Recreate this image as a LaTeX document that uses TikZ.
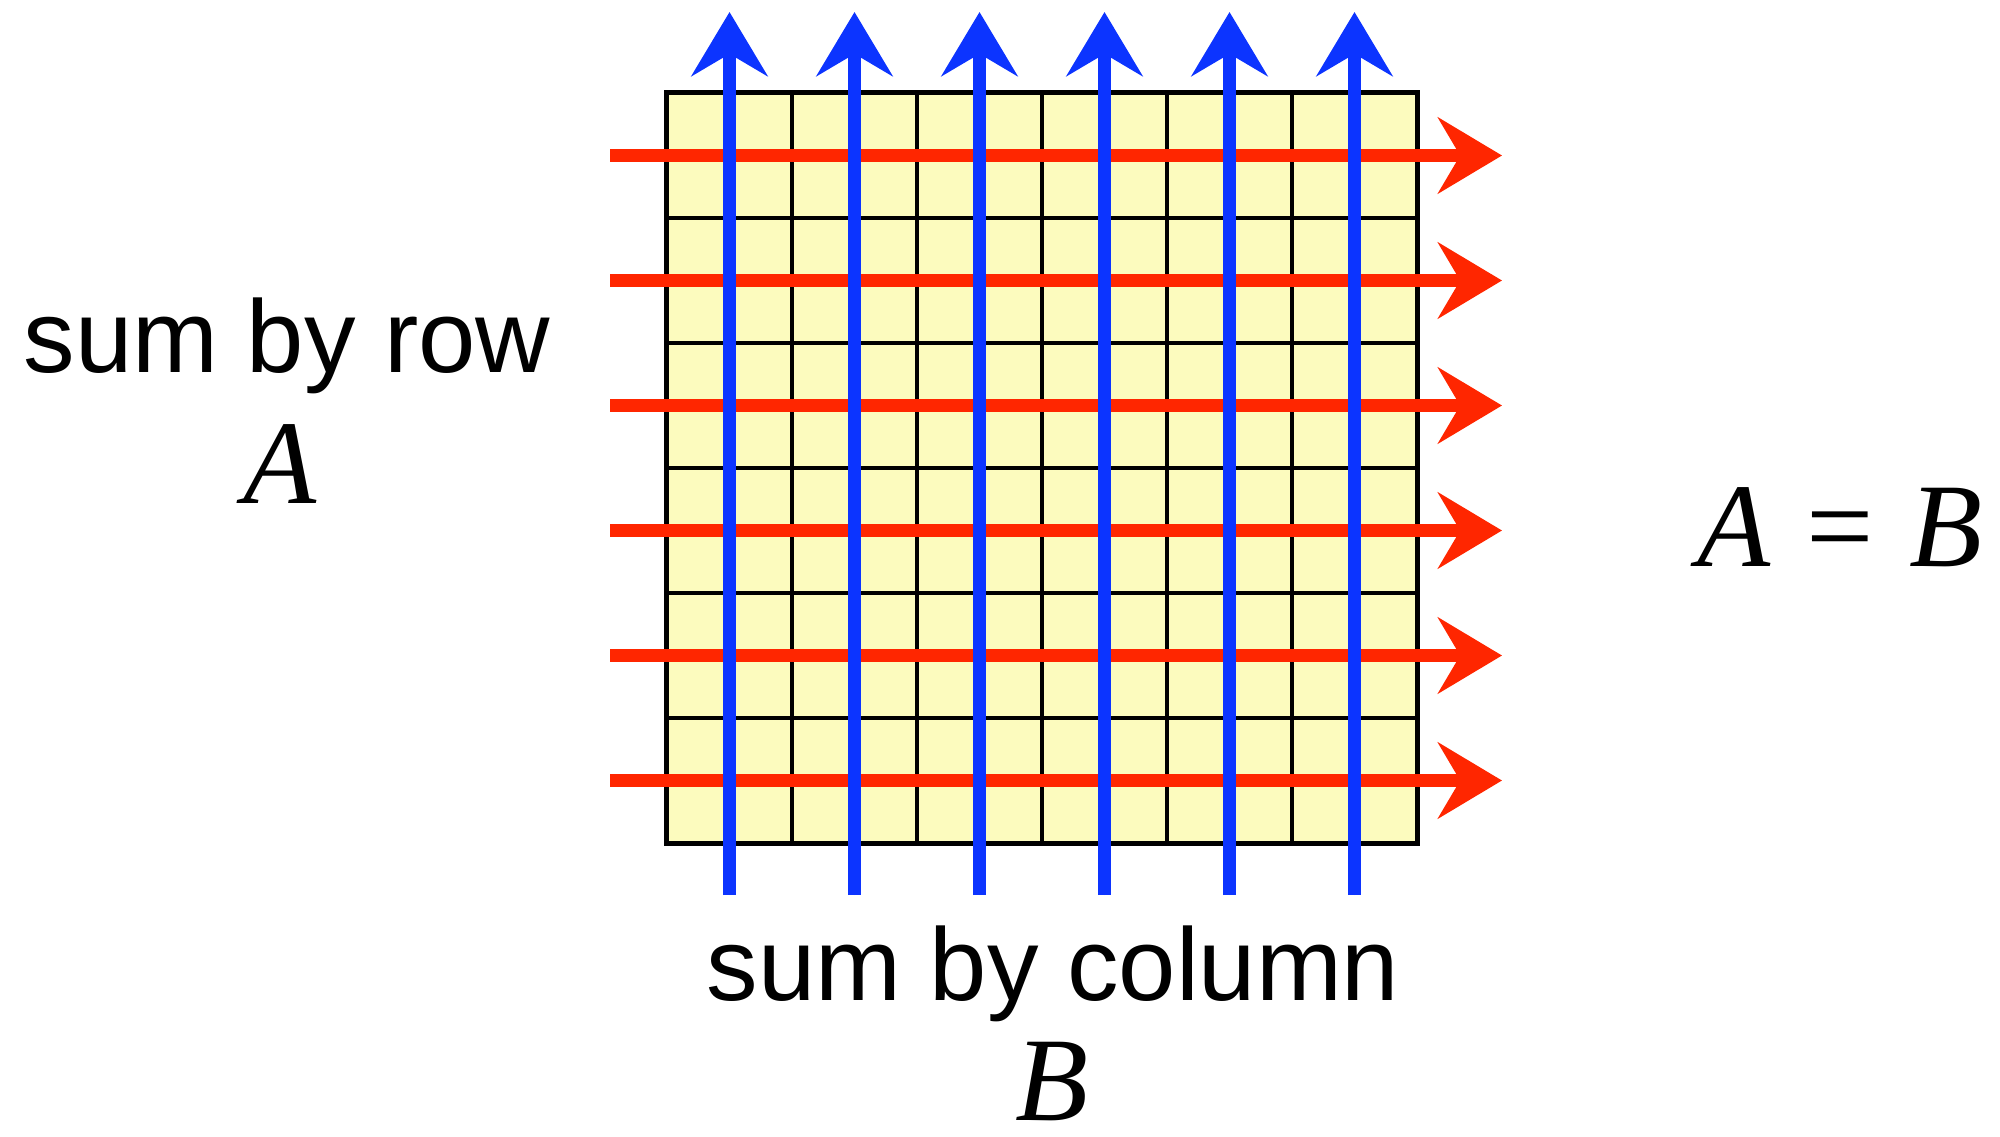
\documentclass[tikz,border=0pt]{standalone}
\usepackage{fontspec}
\setmainfont{Liberation Sans}
\newfontfamily\timesfont{Liberation Serif}
\usetikzlibrary{arrows.meta}
\definecolor{cellyellow}{RGB}{252,251,190}
\definecolor{rowred}{RGB}{255,38,0}
\definecolor{colblue}{RGB}{12,52,255}
\begin{document}
\begin{tikzpicture}[x=0.01cm,y=-0.01cm,
  gridline/.style={draw=black, line width=1.4pt},
  rowarrow/.style={draw=rowred, fill=rowred, line width=3.7pt,
    -{Stealth[length=18.2pt,width=21.6pt,inset=6.3pt]}},
  colarrow/.style={draw=colblue, fill=colblue, line width=3.7pt,
    -{Stealth[length=18.2pt,width=21.6pt,inset=6.3pt]}},
  sanslabel/.style={font=\fontsize{29.3}{35}\selectfont, anchor=base, inner sep=0pt},
  mathlabel/.style={font=\timesfont\itshape\fontsize{34}{40}\selectfont, anchor=base, inner sep=0pt}]
\useasboundingbox (0,0) rectangle (2000,1136);
% grid
\node[fill=cellyellow, minimum width=7.5cm, minimum height=7.5cm, inner sep=0pt] (grid) at (1042,468) {};
\foreach \i in {1,...,5} {
  \draw[gridline] ({667+125*\i},93) -- ({667+125*\i},843);
  \draw[gridline] (667,{93+125*\i}) -- (1417,{93+125*\i});
}
\draw[gridline, line join=miter] (grid.north west) rectangle (grid.south east);
% row arrows
\foreach \r in {1,...,6} {
  \coordinate (rs\r) at (610,{93+125*(\r-0.5)});
  \coordinate (re\r) at (1502,{93+125*(\r-0.5)});
  \draw[rowarrow] (rs\r) -- (re\r);
}
% column arrows
\foreach \c in {1,...,6} {
  \coordinate (cs\c) at ({667+125*(\c-0.5)},895);
  \coordinate (ce\c) at ({667+125*(\c-0.5)},12);
  \draw[colarrow] (cs\c) -- (ce\c);
}
% labels
\node[sanslabel] (rowlabel) at (287,372) {sum by row};
\node[mathlabel] (A) at (280,503) {A};
\node[sanslabel] (collabel) at (1053,1000) {sum by column};
\node[mathlabel] (B) at (1052,1120) {B};
\node[mathlabel] (eq) at (1840,566) {A\hspace{0.3em}{\upshape=}\hspace{0.3em}B};
\end{tikzpicture}
\end{document}
